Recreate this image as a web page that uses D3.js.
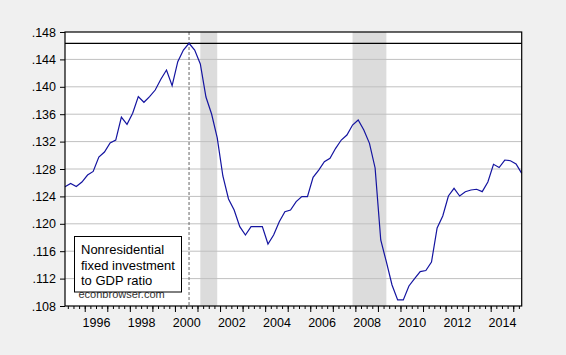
<!DOCTYPE html>
<html><head><meta charset="utf-8">
<script src="https://cdn.jsdelivr.net/npm/d3@7"></script>
<style>
html,body{margin:0;padding:0;background:#f0f0f0;}
svg{display:block;font-family:"Liberation Sans",Arial,sans-serif;}
</style></head>
<body><svg id="c" width="566" height="355"></svg>
<script>
// quarterly observations, 1995Q1 .. 2015Q2
const startYear = 1995;
const ratio = [
 .12542,.12588,.12545,.12610, .12712,.12764,.12975,.13048,
 .13180,.13223,.13559,.13453, .13613,.13856,.13774,.13856,
 .13953,.14110,.14245,.14016, .14366,.14537,.14635,.14537,
 .14333,.13851,.13603,.13253, .12698,.12362,.12201,.11958,
 .11836,.11958,.11958,.11958, .11705,.11836,.12031,.12177,
 .12201,.12323,.12396,.12396, .12679,.12785,.12907,.12956,
 .13102,.13223,.13296,.13442, .13515,.13369,.13175,.12815,
 .11764,.11443,.11107,.10888, .10888,.11092,.11201,.11303,
 .11318,.11442,.11939,.12114, .12406,.12518,.12406,.12469,
 .12493,.12504,.12469,.12610, .12869,.12822,.12931,.12921,
 .12873,.12737
];
const quarters = ratio.map((d,i)=> (startYear + Math.floor(i/4)) + "Q" + (i%4+1));
const yTicks = [.108,.112,.116,.120,.124,.128,.132,.136,.140,.144,.148];
const yTickLabels = [".108",".112",".116",".120",".124",".128",".132",".136",".140",".144",".148"];
const xTickLabels = ["1996","1998","2000","2002","2004","2006","2008","2010","2012","2014"];
const recessions = [["2001Q1","2001Q4"],["2007Q4","2009Q2"]];
const peakQuarter = "2000Q3";
const legendLines = ["Nonresidential","fixed investment","to GDP ratio"];
const sourceText = "econbrowser.com";

const L=65,R=521.7,T=32,B=306;
const svg=d3.select("#c");
const x=d3.scaleLinear().domain([0,ratio.length-1]).range([L,R]);
const y=d3.scaleLinear().domain([.108,.148]).range([B,T]);
const qi=q=>quarters.indexOf(q);

svg.append("rect").attr("x",L).attr("y",T).attr("width",R-L).attr("height",B-T).attr("fill","#fff");
// recession shading
svg.selectAll("rect.rec").data(recessions).enter().append("rect")
  .attr("x",d=>x(qi(d[0]))).attr("y",T)
  .attr("width",d=>x(qi(d[1]))-x(qi(d[0]))).attr("height",B-T).attr("fill","#dcdcdc");
// gridlines
svg.append("g").selectAll("line").data(yTicks.slice(1,-1)).enter().append("line")
  .attr("x1",L).attr("x2",R).attr("y1",d=>y(d)).attr("y2",d=>y(d))
  .attr("stroke","#c0c0c0").attr("stroke-width",1);
// peak dashed vertical
svg.append("line").attr("x1",x(qi(peakQuarter))).attr("x2",x(qi(peakQuarter)))
  .attr("y1",T).attr("y2",B).attr("stroke","#666").attr("stroke-dasharray","3,2").attr("stroke-width",1);
// peak horizontal
const peak=d3.max(ratio);
svg.append("line").attr("x1",L).attr("x2",R).attr("y1",y(peak)).attr("y2",y(peak))
  .attr("stroke","#000").attr("stroke-width",1.3);
// series
svg.append("path").datum(ratio).attr("fill","none").attr("stroke","#1414a0").attr("stroke-width",1.2)
  .attr("d",d3.line().x((d,i)=>x(i)).y(d=>y(d)));
// source text then legend box
svg.append("text").attr("x",78.5).attr("y",298).attr("font-size",11).attr("fill","#333").text(sourceText);
svg.append("rect").attr("x",74.5).attr("y",236.5).attr("width",107).attr("height",55.5)
  .attr("fill","#fff").attr("stroke","#000").attr("stroke-width",1);
svg.append("g").selectAll("text").data(legendLines).enter().append("text")
  .attr("x",81).attr("y",(d,i)=>254+i*15.5).attr("font-size",13).attr("fill","#000").text(d=>d);
// frame
svg.append("rect").attr("x",L).attr("y",T).attr("width",R-L).attr("height",B-T)
  .attr("fill","none").attr("stroke","#000").attr("stroke-width",1.2);
// y axis
const ya=svg.append("g").attr("transform",`translate(${L},0)`)
  .call(d3.axisLeft(y).tickValues(yTicks).tickFormat((d,i)=>yTickLabels[i]).tickSize(5).tickPadding(4));
ya.select(".domain").remove();
ya.selectAll("text").attr("font-size",12.5).attr("font-family","Liberation Sans,Arial,sans-serif").attr("fill","#000");
ya.selectAll("line").attr("stroke","#000");
// x axis minor ticks (quarter boundaries)
const minor=d3.range(1,ratio.length).map(i=>i-0.5);
const xm=svg.append("g").attr("transform",`translate(0,${B})`)
  .call(d3.axisBottom(x).tickValues(minor).tickFormat("").tickSize(3));
xm.select(".domain").remove(); xm.selectAll("line").attr("stroke","#000");
// major ticks at year boundaries
const major=d3.range(4,ratio.length,4).map(i=>i-0.5);
const xM=svg.append("g").attr("transform",`translate(0,${B})`)
  .call(d3.axisBottom(x).tickValues(major).tickFormat("").tickSize(6));
xM.select(".domain").remove(); xM.selectAll("line").attr("stroke","#000");
// year labels centred in year
const labPos=xTickLabels.map(s=>qi(s+"Q1")+1.5);
const xl=svg.append("g").attr("transform",`translate(0,${B})`)
  .call(d3.axisBottom(x).tickValues(labPos).tickFormat((d,i)=>xTickLabels[i]).tickSize(0).tickPadding(12));
xl.select(".domain").remove();
xl.selectAll("text").attr("font-size",12.5).attr("font-family","Liberation Sans,Arial,sans-serif").attr("fill","#000");
</script></body></html>
